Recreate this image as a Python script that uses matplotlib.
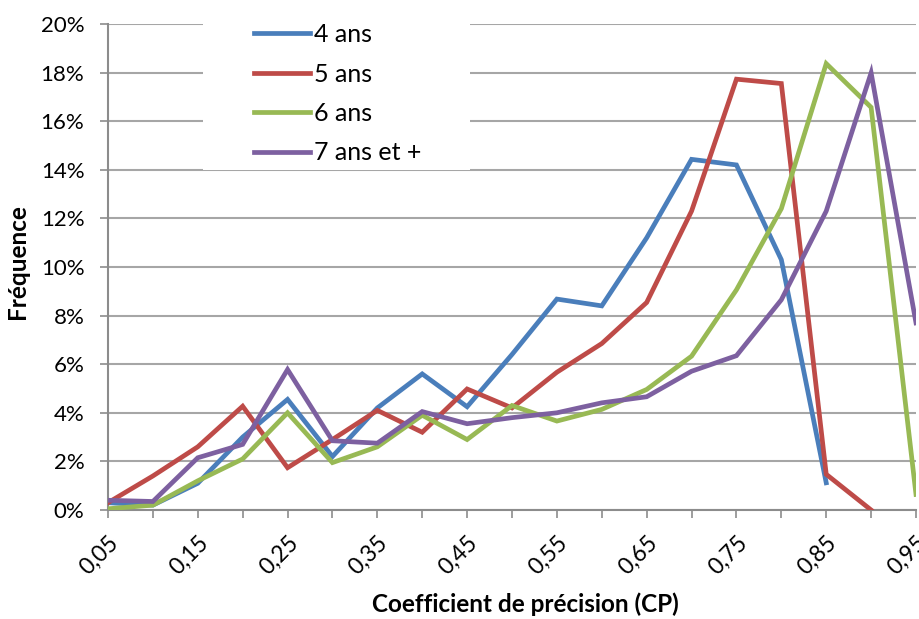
import matplotlib.pyplot as plt
from matplotlib.patches import Rectangle
from matplotlib.ticker import FuncFormatter

plt.rcParams["font.family"] = ["Lato", "DejaVu Sans"]

# =========================
# Données
# =========================

cp = [0.05, 0.10, 0.15, 0.20, 0.25, 0.30, 0.35, 0.40, 0.45, 0.50,
      0.55, 0.60, 0.65, 0.70, 0.75, 0.80, 0.85, 0.90, 0.95]

ans4 = [0.3, 0.2, 1.1, 3.0, 4.55, 2.2, 4.2, 5.6, 4.25, 6.4,
        8.68, 8.4, 11.2, 14.43, 14.2, 10.3, 1.12]
ans5 = [0.3, 1.4, 2.6, 4.27, 1.74, 2.9, 4.1, 3.2, 4.98, 4.2,
        5.67, 6.85, 8.54, 12.3, 17.73, 17.55, 1.47, 0.0]
ans6 = [0.05, 0.2, 1.2, 2.1, 4.0, 1.95, 2.6, 3.9, 2.9, 4.3,
        3.66, 4.14, 4.96, 6.33, 9.06, 12.4, 18.37, 16.57, 0.64]
ans7 = [0.4, 0.35, 2.15, 2.7, 5.78, 2.85, 2.75, 4.05, 3.55, 3.8,
        4.0, 4.41, 4.66, 5.71, 6.35, 8.65, 12.3, 17.99, 7.7]

series = [
    ("4 ans", ans4, "#4A7EBB"),
    ("5 ans", ans5, "#BE4B48"),
    ("6 ans", ans6, "#98B954"),
    ("7 ans et +", ans7, "#7D60A0"),
]

# =========================
# Figure
# =========================

fig = plt.figure(figsize=(9.19, 6.19), dpi=100)
ax = fig.add_axes([108 / 919, 1 - 510 / 619, 808 / 919, 486 / 619])

for name, values, color in series:
    ax.plot(cp[:len(values)], [v / 100 for v in values],
            color=color, linewidth=3.4, label=name,
            solid_joinstyle="miter", zorder=3)

ax.set_xlim(0.05, 0.95)
ax.set_ylim(0, 0.20)

ax.set_xticks(cp)
ax.set_xticklabels(
    [f"{v:.2f}".replace(".", ",") if i % 2 == 0 else "" for i, v in enumerate(cp)],
    rotation=45, ha="right", rotation_mode="anchor", fontsize=16.5
)

ax.set_yticks([i / 100 for i in range(0, 21, 2)])
ax.yaxis.set_major_formatter(FuncFormatter(lambda v, p: f"{v * 100:.0f}%"))
ax.tick_params(axis="y", labelsize=16, length=6, width=1.2, color="#8C8C8C", pad=11)
ax.tick_params(axis="x", length=6, width=1.2, color="#8C8C8C", pad=10)

ax.grid(axis="y", color="#A6A6A6", linewidth=1.5)
ax.set_axisbelow(True)

for side in ["top", "right"]:
    ax.spines[side].set_visible(False)
for side in ["left", "bottom"]:
    ax.spines[side].set_color("#8C8C8C")
    ax.spines[side].set_linewidth(1.5)

ax.set_xlabel("Coefficient de précision (CP)", fontsize=17.5, fontweight="bold")
ax.xaxis.set_label_coords(525 / 919, 1 - 592 / 619, transform=fig.transFigure)
ax.set_ylabel("Fréquence", fontsize=17.5, fontweight="bold")
ax.yaxis.set_label_coords(29 / 919, 1 - 262 / 619, transform=fig.transFigure)

# fond blanc de la légende
ax.add_patch(Rectangle((203 / 919, 1 - 170 / 619), 267 / 919, 170 / 619,
                       transform=fig.transFigure, facecolor="white",
                       edgecolor="none", clip_on=False, zorder=2))

leg = ax.legend(loc="upper left", bbox_to_anchor=(244 / 919, 1 - 13 / 619),
                bbox_transform=fig.transFigure, frameon=False, fontsize=18,
                handlelength=2.24, handletextpad=0.16, labelspacing=0.66,
                borderaxespad=0)
leg.set_zorder(5)

fig.savefig("out.png", dpi=100)
